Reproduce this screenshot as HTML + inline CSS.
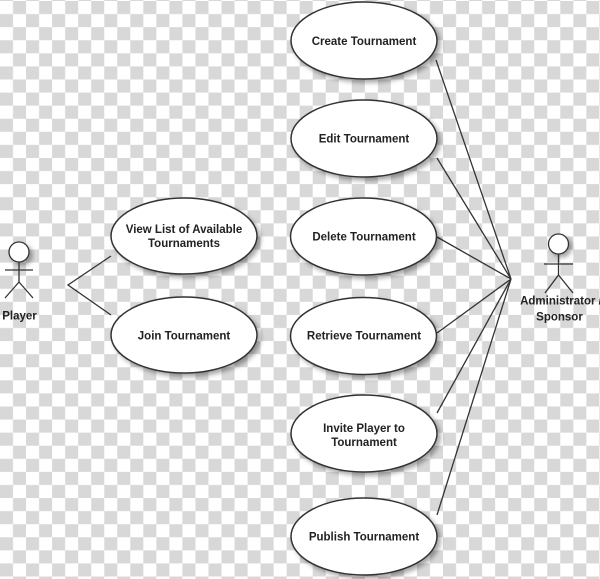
<!DOCTYPE html>
<html>
<head>
<meta charset="utf-8">
<style>
  html, body { margin: 0; padding: 0; }
  body { width: 600px; height: 579px; overflow: hidden; background: #fff; }
  svg { display: block; }
  text { font-family: "Liberation Sans", Arial, sans-serif; font-weight: bold; font-size: 11.5px; fill: #222; }
</style>
</head>
<body>
<svg width="600" height="579" viewBox="0 0 600 579" xmlns="http://www.w3.org/2000/svg">
  <defs>
    <pattern id="chk" patternUnits="userSpaceOnUse" x="0" y="1" width="26.06" height="26.16">
      <rect x="0" y="0" width="26.06" height="26.16" fill="#ffffff"/>
      <rect x="13.03" y="0" width="13.03" height="13.08" fill="#d8d8d8"/>
      <rect x="0" y="13.08" width="13.03" height="13.08" fill="#d8d8d8"/>
    </pattern>
    <filter id="sh" x="-20%" y="-20%" width="150%" height="160%">
      <feDropShadow dx="3" dy="3" stdDeviation="2.5" flood-color="#000" flood-opacity="0.35"/>
    </filter>
  </defs>

  <rect x="0" y="0" width="600" height="579" fill="url(#chk)"/>

  <!-- connectors -->
  <g stroke="#333" stroke-width="1.3" fill="none">
    <line x1="436" y1="60" x2="511" y2="279"/>
    <line x1="437" y1="158" x2="511" y2="279"/>
    <line x1="437" y1="237" x2="511" y2="279"/>
    <line x1="437" y1="333" x2="511" y2="279"/>
    <line x1="437" y1="413" x2="511" y2="279"/>
    <line x1="437" y1="515" x2="511" y2="279"/>
    <polyline points="111,256 68,285 111,315"/>
  </g>

  <!-- ellipses -->
  <g fill="#fff" stroke="#333" stroke-width="1.5" filter="url(#sh)">
    <ellipse cx="364" cy="40.5" rx="73" ry="38.5"/>
    <ellipse cx="364" cy="138.5" rx="73" ry="38.5"/>
    <ellipse cx="363.5" cy="236.5" rx="73" ry="38.5"/>
    <ellipse cx="363.5" cy="336" rx="73" ry="38.5"/>
    <ellipse cx="364" cy="433.5" rx="73" ry="38.5"/>
    <ellipse cx="364" cy="536.5" rx="73" ry="38.5"/>
    <ellipse cx="184" cy="236" rx="73" ry="38"/>
    <ellipse cx="184" cy="335" rx="73" ry="38"/>
  </g>

  <!-- labels -->
  <g text-anchor="middle">
    <text x="364" y="45">Create Tournament</text>
    <text x="364" y="142.5">Edit Tournament</text>
    <text x="364" y="240.5">Delete Tournament</text>
    <text x="364" y="339.5">Retrieve Tournament</text>
    <text x="364" y="432">Invite Player to</text>
    <text x="364" y="446">Tournament</text>
    <text x="364" y="540.5">Publish Tournament</text>
    <text x="184" y="233">View List of Available</text>
    <text x="184" y="247">Tournaments</text>
    <text x="184" y="339.5">Join Tournament</text>
    <text x="19.5" y="319.5">Player</text>
    <text x="561" y="304.5">Administrator /</text>
    <text x="559.5" y="320.5">Sponsor</text>
  </g>

  <!-- Player actor -->
  <g stroke="#333" stroke-width="1.3" fill="#fff">
    <circle cx="19" cy="252" r="10" filter="url(#sh)"/>
    <line x1="5" y1="270" x2="33" y2="270"/>
    <line x1="19" y1="262" x2="19" y2="282"/>
    <line x1="19" y1="282" x2="5" y2="298"/>
    <line x1="19" y1="282" x2="33" y2="298"/>
  </g>

  <!-- Admin actor -->
  <g stroke="#333" stroke-width="1.3" fill="#fff">
    <circle cx="558.5" cy="244" r="10" filter="url(#sh)"/>
    <line x1="544" y1="264" x2="573" y2="264"/>
    <line x1="558.5" y1="254" x2="558.5" y2="275"/>
    <line x1="558.5" y1="275" x2="545" y2="293"/>
    <line x1="558.5" y1="275" x2="573" y2="293"/>
  </g>
</svg>
</body>
</html>
